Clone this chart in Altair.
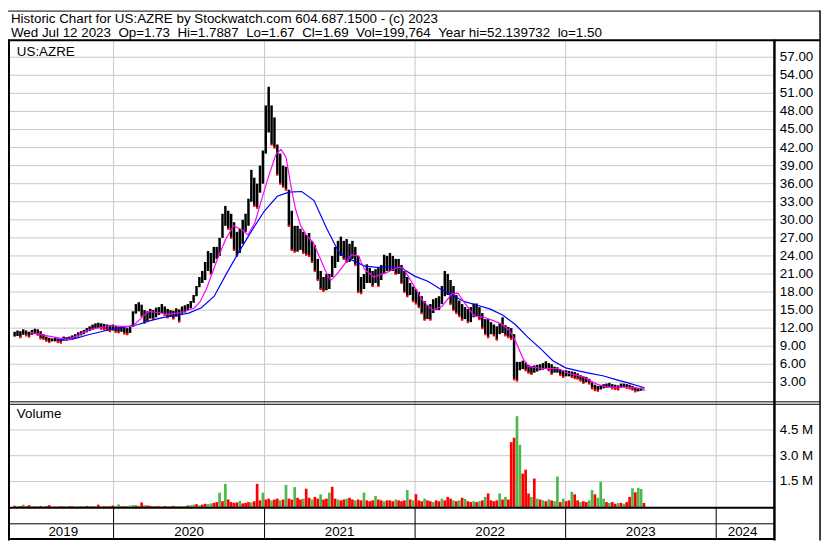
import altair as alt
import pandas as pd

# ---------------- data ----------------
week_start = "2019-05-06"   # first weekly bar; one bar per week after that

price_high = [
    11.4, 11.6, 11.5, 11.8, 11.6, 11.4, 11.7, 11.9, 11.8, 11.5,
    11.0, 10.6, 10.4, 10.3, 10.4, 10.3, 10.2, 10.6, 10.5, 10.6,
    10.8, 11.0, 11.3, 11.5, 11.7, 12.0, 12.3, 12.6, 12.8, 12.9,
    12.8, 12.7, 12.6, 12.5, 12.6, 12.4, 12.2, 12.3, 12.1, 12.0,
    12.3, 14.8, 16.0, 16.3, 15.9, 15.0, 14.8, 15.2, 15.0, 15.4,
    15.5, 16.0, 15.6, 15.2, 15.0, 14.9, 15.3, 15.1, 15.6, 15.8,
    16.0, 16.5, 17.5, 19.0, 20.5, 21.5, 23.0, 24.8, 24.5, 25.5,
    25.5, 27.0, 31.0, 32.3, 31.5, 31.0, 29.6, 28.0, 28.5, 30.0,
    31.0, 33.5, 38.3, 37.0, 36.0, 39.0, 41.5, 49.0, 52.1, 49.0,
    47.0, 42.5, 41.0, 39.0, 38.8, 35.0, 31.5, 29.0, 29.0, 28.5,
    28.0, 27.5, 27.8, 26.5, 25.8, 23.5, 21.5, 20.5, 21.0, 21.0,
    24.0, 25.5, 26.5, 27.2, 26.5, 26.8, 26.0, 26.5, 25.5, 24.0,
    20.5, 21.0, 22.6, 22.0, 21.5, 21.8, 22.0, 22.5, 24.2, 24.0,
    24.5, 24.0, 23.5, 23.5, 22.5, 21.5, 20.5, 19.5, 18.9, 18.5,
    18.0, 17.3, 16.5, 15.8, 16.0, 16.8, 17.0, 17.3, 19.0, 21.5,
    21.0, 20.0, 19.0, 17.5, 16.6, 16.0, 15.5, 15.2, 15.5, 16.1,
    16.1, 15.5, 14.5, 13.5, 13.5, 13.0, 12.6, 12.3, 12.8, 13.8,
    12.5, 12.2, 12.0, 11.0, 6.4, 6.4, 6.6, 6.3, 5.9, 5.7,
    5.8, 5.9, 6.0, 6.2, 6.5, 6.2, 6.0, 5.6, 5.5, 5.2,
    5.0, 5.0, 4.9, 4.8, 4.7, 4.5, 4.2, 4.0, 3.9, 3.6,
    3.0, 2.6, 2.4, 2.5, 2.7, 2.8, 2.9, 2.7, 2.6, 2.5,
    2.8, 2.8, 2.7, 2.6, 2.4, 2.1, 2.0, 2.1, 1.79,
]
price_low = [
    10.6, 10.7, 10.5, 10.9, 10.8, 10.6, 10.9, 11.0, 10.9, 10.3,
    10.2, 9.9, 9.7, 9.8, 9.8, 9.7, 9.6, 9.9, 9.9, 10.0,
    10.1, 10.4, 10.6, 10.8, 11.0, 11.3, 11.5, 11.7, 11.9, 12.0,
    11.9, 11.8, 11.7, 11.5, 11.6, 11.4, 11.3, 11.4, 11.1, 11.0,
    11.2, 12.2, 14.4, 14.8, 14.0, 12.9, 13.2, 13.6, 13.5, 13.8,
    14.2, 14.5, 14.2, 13.8, 13.9, 13.6, 13.9, 13.1, 14.4, 14.6,
    15.0, 15.3, 16.2, 17.3, 18.8, 19.5, 20.0, 21.5, 21.0, 22.8,
    23.5, 24.0, 27.0, 29.0, 28.5, 27.0, 25.0, 24.0, 24.5, 26.0,
    28.0, 29.0, 33.0, 32.3, 32.0, 34.5, 36.0, 41.0, 44.5, 42.5,
    42.0, 37.5, 36.0, 35.5, 35.0, 29.0, 25.0, 24.7, 24.7, 25.0,
    24.5, 24.2, 24.0, 23.0, 21.5, 20.0, 18.5, 18.2, 18.3, 18.5,
    20.5, 22.0, 23.0, 24.0, 23.5, 23.0, 23.0, 23.5, 22.5, 18.0,
    17.8, 18.5, 19.5, 19.5, 19.0, 19.5, 19.0, 20.0, 21.0, 21.5,
    21.5, 21.5, 21.0, 21.0, 19.5, 18.0, 17.3, 17.5, 16.5, 16.1,
    15.5, 14.5, 13.4, 13.5, 13.4, 14.5, 15.0, 15.0, 16.0, 17.3,
    17.5, 16.0, 15.0, 14.5, 14.0, 13.4, 13.5, 13.0, 13.0, 13.8,
    14.0, 13.5, 12.0, 11.0, 10.5, 11.0, 10.8, 10.1, 11.0, 11.2,
    10.8, 10.5, 10.2, 3.5, 3.3, 5.0, 5.2, 5.0, 4.6, 4.4,
    4.6, 4.8, 5.0, 5.1, 5.2, 5.0, 4.4, 4.6, 4.6, 4.2,
    3.9, 4.0, 4.0, 3.9, 3.7, 3.6, 3.3, 2.9, 3.0, 2.8,
    2.0, 1.7, 1.6, 1.8, 2.0, 2.1, 2.2, 2.0, 1.9, 1.8,
    2.1, 2.2, 2.1, 2.0, 1.8, 1.5, 1.5, 1.6, 1.67,
]
volume_m = [
    0.08, 0.06, 0.07, 0.15, 0.06, 0.12, 0.06, 0.05, 0.06, 0.07,
    0.05, 0.06, 0.12, 0.05, 0.04, 0.05, 0.06, 0.05, 0.05, 0.06,
    0.06, 0.05, 0.06, 0.05, 0.06, 0.07, 0.06, 0.05, 0.06, 0.15,
    0.05, 0.06, 0.07, 0.05, 0.10, 0.06, 0.16, 0.05, 0.06, 0.07,
    0.10, 0.12, 0.10, 0.08, 0.28, 0.12, 0.10, 0.08, 0.07, 0.06,
    0.06, 0.05, 0.07, 0.06, 0.05, 0.08, 0.06, 0.05, 0.06, 0.07,
    0.10, 0.12, 0.15, 0.18, 0.10, 0.15, 0.20, 0.18, 0.22, 0.25,
    0.30, 0.85, 0.35, 1.36, 0.45, 0.30, 0.25, 0.28, 0.36, 0.22,
    0.25, 0.30, 0.28, 0.35, 1.36, 0.40, 0.85, 0.45, 0.50, 0.40,
    0.45, 0.50, 0.40, 0.45, 1.30, 0.50, 0.45, 1.17, 0.55, 0.45,
    0.50, 1.08, 0.55, 0.45, 0.60, 0.50, 0.75, 0.45, 0.50, 0.85,
    1.19, 0.50, 0.45, 0.40, 0.45, 0.50, 0.55, 0.45, 0.40, 0.45,
    0.40, 0.85, 0.40, 0.35, 0.40, 0.65, 0.45, 0.40, 0.35, 0.40,
    0.40, 0.35, 0.45, 0.40, 0.35, 0.40, 1.00, 0.45, 0.40, 0.76,
    0.40, 0.35, 0.50, 0.40, 0.35, 0.30, 0.40, 0.35, 0.50, 0.40,
    0.60, 0.50, 0.40, 0.35, 0.40, 0.55, 0.48, 0.35, 0.30, 0.35,
    0.30, 0.35, 0.40, 0.60, 0.80, 0.40, 0.35, 0.40, 0.80, 0.45,
    0.60, 0.45, 3.79, 4.04, 5.30, 3.63, 1.96, 2.19, 0.80, 0.60,
    1.67, 0.50, 0.45, 0.40, 0.35, 0.45, 0.40, 0.35, 1.79, 0.30,
    0.50, 0.35, 0.40, 0.90, 0.75, 0.40, 0.30, 0.35, 0.30, 0.40,
    1.00, 0.75, 0.55, 1.48, 0.50, 0.30, 0.25, 0.30, 0.20, 0.25,
    0.25, 0.20, 0.30, 0.60, 1.10, 0.87, 1.13, 1.06, 0.25,
]
volume_up = (
    "rgrgrrgrgr" "grrgrgrrgr" "rggrgrgrgr" "grgrrggrrg" "ggrgrgrrgr"
    "rgrgrrgrgg" "rggrgrrggr" "rgrgrrrrgr" "rrgrrrgrrg" "rrgrgrrgrr"
    "grrgrrgrrg" "rrgrrgrrgr" "rgrrrgrrgr" "rrgrrrgrgr" "rrgrrgrrgr"
    "rrgrgrgrrg" "rgrgrrrrgr" "grrrggrrrg" "rgrgrgrggr" "grrgrrgrrg"
    "grgggrgrrg" "rgrrgrggr"
)

ma_short_dates = [
    "2019-06-13", "2019-07-18", "2019-09-13", "2019-11-06", "2019-12-23",
    "2020-01-22", "2020-02-15", "2020-03-09", "2020-03-25", "2020-04-18",
    "2020-05-11", "2020-06-11", "2020-07-14", "2020-07-28", "2020-08-13",
    "2020-09-06", "2020-09-29", "2020-10-18", "2020-11-08", "2020-11-22",
    "2020-12-09", "2020-12-25", "2021-01-13", "2021-01-29", "2021-02-10",
    "2021-02-22", "2021-03-06", "2021-03-17", "2021-03-29", "2021-04-12",
    "2021-04-29", "2021-05-15", "2021-05-29", "2021-06-10", "2021-06-26",
    "2021-07-08", "2021-07-31", "2021-08-17", "2021-08-31", "2021-09-23",
    "2021-10-26", "2021-11-19", "2021-12-03", "2021-12-26", "2022-01-19",
    "2022-02-12", "2022-03-07", "2022-03-31", "2022-04-15", "2022-05-02",
    "2022-05-25", "2022-06-18", "2022-07-11", "2022-07-30", "2022-08-18",
    "2022-09-03", "2022-09-20", "2022-10-04", "2022-11-06", "2022-12-13",
    "2023-01-07", "2023-02-09", "2023-03-18", "2023-04-10", "2023-05-21",
    "2023-06-20", "2023-07-11",
]
ma_short_values = [
    11.3, 10.8, 10.1, 11.8, 12.4,
    12.3, 12.3, 13.7, 14.8, 14.6,
    14.3, 14.6, 15.3, 16.3, 18.5,
    23.0, 26.8, 29.0, 28.3, 27.5,
    29.6, 33.4, 37.7, 40.9, 41.7,
    40.4, 35.6, 31.8, 29.1, 27.5,
    26.2, 23.7, 21.5, 19.9, 21.0,
    22.1, 24.2, 24.0, 21.8, 20.5,
    21.3, 22.1, 22.0, 19.4, 16.6,
    15.0, 15.6, 17.7, 17.8, 16.1,
    14.0, 13.8, 13.2, 12.7, 11.6,
    9.6, 6.9, 5.6, 5.3, 5.3,
    4.5, 4.0, 2.7, 2.2, 2.2,
    2.1, 1.9,
]
ma_long_dates = [
    "2019-08-15", "2019-09-01", "2019-10-01", "2019-11-01", "2019-12-01",
    "2020-01-01", "2020-02-01", "2020-03-01", "2020-04-01", "2020-05-01",
    "2020-06-01", "2020-07-01", "2020-08-01", "2020-09-01", "2020-10-01",
    "2020-11-01", "2020-12-01", "2021-01-01", "2021-02-01", "2021-03-01",
    "2021-04-01", "2021-05-01", "2021-06-01", "2021-07-01", "2021-08-01",
    "2021-09-01", "2021-10-01", "2021-11-01", "2021-12-01", "2022-01-01",
    "2022-02-01", "2022-03-01", "2022-04-01", "2022-05-01", "2022-06-01",
    "2022-07-01", "2022-08-01", "2022-09-01", "2022-10-01", "2022-11-01",
    "2022-12-01", "2023-01-01", "2023-02-01", "2023-03-01", "2023-04-01",
    "2023-05-01", "2023-06-01", "2023-07-11",
]
ma_long_values = [
    10.1, 10.1, 10.3, 10.9, 11.4,
    11.9, 12.2, 12.6, 13.3, 13.8,
    14.1, 14.5, 15.4, 17.3, 21.1,
    24.8, 28.2, 31.5, 33.9, 34.6,
    34.7, 33.2, 28.5, 24.5, 23.3,
    22.3, 22.1, 22.2, 21.9, 20.6,
    19.8, 18.6, 17.5, 16.4, 15.8,
    15.2, 14.2, 12.6, 10.5, 8.6,
    6.6, 5.4, 4.9, 4.5, 4.1,
    3.5, 2.9, 2.1,
]

price_ticks = [3, 6, 9, 12, 15, 18, 21, 24, 27, 30, 33, 36, 39, 42, 45, 48, 51, 54, 57]
volume_ticks = [1.5, 3.0, 4.5]
year_starts = ["2020-01-01", "2021-01-01", "2022-01-01", "2023-01-01", "2024-01-01"]
year_labels = ["2019", "2020", "2021", "2022", "2023", "2024"]
x_domain = ["2019-05-02", "2024-05-08"]

title_1 = "Historic Chart for US:AZRE by Stockwatch.com 604.687.1500 - (c) 2023"
title_2 = ("Wed Jul 12 2023  Op=1.73  Hi=1.7887  Lo=1.67  Cl=1.69  "
           "Vol=199,764  Year hi=52.139732  lo=1.50")
symbol = "US:AZRE"
vol_title = "Volume"

assert len(price_high) == len(price_low) == len(volume_m) == len(volume_up)
assert len(ma_short_dates) == len(ma_short_values)
assert len(ma_long_dates) == len(ma_long_values)

# ---------------- layout helpers (reference pixels -> chart pixels) ----------------
W, H = 822, 535
SX, SY = W / 830, H / 543


def X(px):
    return px * SX


def Y(py):
    return py * SY


FONT = "Liberation Sans"
FS = 13.5
GRID = "#c8c8c8"

weeks = pd.date_range(week_start, periods=len(price_high), freq="7D").strftime("%Y-%m-%d")
bars_df = pd.DataFrame({"d": weeks, "hi": price_high, "lo": price_low,
                        "v": volume_m, "c": list(volume_up)})
down_df = bars_df[bars_df["lo"] < bars_df["lo"].shift(1)]

ma_s_df = pd.DataFrame({"d": ma_short_dates, "v": ma_short_values})
ma_l_df = pd.DataFrame({"d": ma_long_dates, "v": ma_long_values})

lo_d, hi_d = pd.Timestamp(x_domain[0]), pd.Timestamp(x_domain[1])
mids = []
for y in year_labels:
    a = max(pd.Timestamp(f"{y}-01-01"), lo_d)
    b = min(pd.Timestamp(f"{int(y) + 1}-01-01"), hi_d)
    mids.append((a + (b - a) / 2).strftime("%Y-%m-%d"))
year_lab_df = pd.DataFrame({"d": mids, "t": year_labels})
year_df = pd.DataFrame({"d": year_starts})

xs = alt.Scale(domain=x_domain, range=[X(0), X(781)], nice=False)
ps = alt.Scale(domain=[0, 60], range=[Y(399.5), Y(29.3)], nice=False, zero=False)
vs = alt.Scale(domain=[0, 6], range=[Y(509), Y(403.4)], nice=False)


def xenc(f="d"):
    return alt.X(f"{f}:T", scale=xs, axis=None)


one = pd.DataFrame({"k": [0]})


def hline(y, x1, x2, w=1.0, color="black"):
    return alt.Chart(one).mark_rule(color=color, strokeWidth=w).encode(
        x=alt.value(X(x1)), x2=alt.value(X(x2)), y=alt.value(Y(y)))


def vline(x, y1, y2, w=1.0, color="black"):
    return alt.Chart(one).mark_rule(color=color, strokeWidth=w).encode(
        x=alt.value(X(x)), y=alt.value(Y(y1)), y2=alt.value(Y(y2)))


def label(text, x, y):
    return alt.Chart(pd.DataFrame({"t": [text.replace("  ", " \u00a0")]})).mark_text(
        align="left", baseline="middle", font=FONT, fontSize=FS, color="black"
    ).encode(x=alt.value(X(x)), y=alt.value(Y(y)), text="t:N")


layers = []

# grids
layers.append(alt.Chart(pd.DataFrame({"p": price_ticks})).mark_rule(color=GRID, strokeWidth=1).encode(
    y=alt.Y("p:Q", scale=ps, axis=None), x=alt.value(X(1)), x2=alt.value(X(781))))
layers.append(alt.Chart(pd.DataFrame({"p": volume_ticks})).mark_rule(color=GRID, strokeWidth=1).encode(
    y=alt.Y("p:Q", scale=vs, axis=None), x=alt.value(X(1)), x2=alt.value(X(781))))
layers.append(alt.Chart(year_df).mark_rule(color=GRID, strokeWidth=1).encode(
    x=xenc(), y=alt.value(Y(31)), y2=alt.value(Y(509))))
layers.append(alt.Chart(year_df).mark_rule(color="black", strokeWidth=1).encode(
    x=xenc(), y=alt.value(Y(509)), y2=alt.value(Y(542))))

# price bars
layers.append(alt.Chart(bars_df).mark_rule(color="black", strokeWidth=2.5).encode(
    x=xenc(), y=alt.Y("lo:Q", scale=ps, axis=None), y2="hi:Q"))
layers.append(alt.Chart(down_df).mark_square(color="#ff0000", size=5, opacity=1).encode(
    x=xenc(), y=alt.Y("lo:Q", scale=ps, axis=None)))

# moving averages
layers.append(alt.Chart(ma_l_df).mark_line(color="#0000ff", strokeWidth=1.2).encode(
    x=xenc(), y=alt.Y("v:Q", scale=ps, axis=None)))
layers.append(alt.Chart(ma_s_df).mark_line(color="#ff00ff", strokeWidth=1.2).encode(
    x=xenc(), y=alt.Y("v:Q", scale=ps, axis=None)))

# volume
layers.append(alt.Chart(bars_df).mark_bar(width=2.7).encode(
    x=xenc(), y=alt.Y("v:Q", scale=vs, axis=None),
    color=alt.Color("c:N", scale=alt.Scale(domain=["g", "r"], range=["#4db84d", "#ff0000"]), legend=None)))

# frame
layers += [
    hline(0.5, 0, 828, 1),
    vline(828, 0, 543, 1.5),
    hline(30.5, 0, 828, 2),
    vline(1, 30, 543, 2),
    vline(781.5, 30, 543, 2.5),
    hline(401, 0, 828, 1),
    hline(403.5, 0, 828, 1),
    hline(509.5, 0, 781, 2),
    hline(526, 0, 781, 1),
    hline(541.5, 0, 781, 2),
]

# texts
layers += [
    label(title_1, 3, 8.5),
    label(title_2, 3, 22.5),
    label(symbol, 9, 42),
    label(vol_title, 9, 413),
]
layers.append(alt.Chart(pd.DataFrame({"p": price_ticks, "t": [f"{p:.2f}" for p in price_ticks]})).mark_text(
    align="left", baseline="middle", font=FONT, fontSize=FS, color="black").encode(
    x=alt.value(X(787)), y=alt.Y("p:Q", scale=ps, axis=None), text="t:N"))
layers.append(alt.Chart(pd.DataFrame({"p": volume_ticks, "t": [f"{p:.1f} M" for p in volume_ticks]})).mark_text(
    align="left", baseline="middle", font=FONT, fontSize=FS, color="black").encode(
    x=alt.value(X(787)), y=alt.Y("p:Q", scale=vs, axis=None), text="t:N"))
layers.append(alt.Chart(year_lab_df).mark_text(
    align="center", baseline="middle", font=FONT, fontSize=FS, color="black").encode(
    x=xenc(), y=alt.value(Y(534.5)), text="t:N"))

chart = alt.layer(*layers).resolve_scale(y="independent", color="independent").properties(
    width=W, height=H, autosize=alt.AutoSizeParams(type="none"), padding=0,
    background="white",
).configure_view(stroke=None)

chart.save("out.html", embed_options={"renderer": "svg", "actions": False})
